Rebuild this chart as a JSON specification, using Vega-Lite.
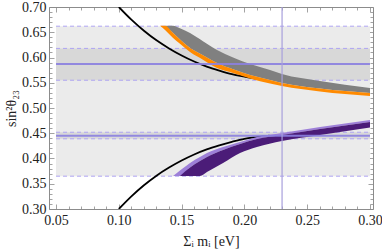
{
  "$schema": "https://vega.github.io/schema/vega-lite/v6.json",
  "width": 324,
  "height": 202,
  "autosize": {"type": "none"},
  "padding": {"left": 49, "top": 7, "right": 9, "bottom": 40},
  "background": "white",
  "config": {
    "view": {"stroke": "#8c8c8c", "strokeWidth": 1},
    "axis": {
      "domain": false,
      "grid": false,
      "labelFont": "Liberation Serif",
      "labelFontSize": 14,
      "labelColor": "#222",
      "titleFont": "Liberation Serif",
      "titleFontSize": 14,
      "titleFontWeight": "normal",
      "titleColor": "#222",
      "tickColor": "#8c8c8c",
      "tickWidth": 0.8
    }
  },
  "datasets": {
    "curves": [
      {"x": 0.10, "y": 0.700, "branch": "up"},
      {"x": 0.11, "y": 0.675, "branch": "up"},
      {"x": 0.12, "y": 0.653, "branch": "up"},
      {"x": 0.13, "y": 0.634, "branch": "up"},
      {"x": 0.14, "y": 0.618, "branch": "up"},
      {"x": 0.15, "y": 0.604, "branch": "up"},
      {"x": 0.16, "y": 0.592, "branch": "up"},
      {"x": 0.17, "y": 0.582, "branch": "up"},
      {"x": 0.18, "y": 0.574, "branch": "up"},
      {"x": 0.19, "y": 0.567, "branch": "up"},
      {"x": 0.20, "y": 0.562, "branch": "up"},
      {"x": 0.21, "y": 0.5575, "branch": "up"},
      {"x": 0.10, "y": 0.300, "branch": "lo"},
      {"x": 0.11, "y": 0.325, "branch": "lo"},
      {"x": 0.12, "y": 0.347, "branch": "lo"},
      {"x": 0.13, "y": 0.366, "branch": "lo"},
      {"x": 0.14, "y": 0.382, "branch": "lo"},
      {"x": 0.15, "y": 0.396, "branch": "lo"},
      {"x": 0.16, "y": 0.408, "branch": "lo"},
      {"x": 0.17, "y": 0.418, "branch": "lo"},
      {"x": 0.18, "y": 0.426, "branch": "lo"},
      {"x": 0.19, "y": 0.433, "branch": "lo"},
      {"x": 0.20, "y": 0.439, "branch": "lo"},
      {"x": 0.21, "y": 0.4425, "branch": "lo"},
      {"x": 0.22, "y": 0.4455, "branch": "lo"}
    ],
    "bands": [
      {"part": "gray", "x": 0.1368, "hi": 0.663, "lo": 0.663},
      {"part": "gray", "x": 0.1432, "hi": 0.663, "lo": 0.6485},
      {"part": "gray", "x": 0.1487, "hi": 0.658, "lo": 0.6356},
      {"part": "gray", "x": 0.1567, "hi": 0.6485, "lo": 0.6188},
      {"part": "gray", "x": 0.1670, "hi": 0.6323, "lo": 0.6046},
      {"part": "gray", "x": 0.1782, "hi": 0.6149, "lo": 0.5891},
      {"part": "gray", "x": 0.1910, "hi": 0.6000, "lo": 0.5766},
      {"part": "gray", "x": 0.2045, "hi": 0.5871, "lo": 0.5653},
      {"part": "gray", "x": 0.2204, "hi": 0.5752, "lo": 0.5554},
      {"part": "gray", "x": 0.2299, "hi": 0.5673, "lo": 0.5495},
      {"part": "gray", "x": 0.2602, "hi": 0.5535, "lo": 0.5386},
      {"part": "gray", "x": 0.3000, "hi": 0.5396, "lo": 0.5297},
      {"part": "orange", "x": 0.1328, "hi": 0.663, "lo": 0.663},
      {"part": "orange", "x": 0.1368, "hi": 0.663, "lo": 0.6545},
      {"part": "orange", "x": 0.1432, "hi": 0.6485, "lo": 0.6386},
      {"part": "orange", "x": 0.1487, "hi": 0.6356, "lo": 0.627},
      {"part": "orange", "x": 0.1567, "hi": 0.6188, "lo": 0.6109},
      {"part": "orange", "x": 0.1670, "hi": 0.6046, "lo": 0.5956},
      {"part": "orange", "x": 0.1782, "hi": 0.5891, "lo": 0.5792},
      {"part": "orange", "x": 0.1910, "hi": 0.5766, "lo": 0.5693},
      {"part": "orange", "x": 0.2045, "hi": 0.5653, "lo": 0.5584},
      {"part": "orange", "x": 0.2204, "hi": 0.5554, "lo": 0.5485},
      {"part": "orange", "x": 0.2299, "hi": 0.5495, "lo": 0.5436},
      {"part": "orange", "x": 0.2602, "hi": 0.5386, "lo": 0.5327},
      {"part": "orange", "x": 0.3000, "hi": 0.5297, "lo": 0.5238},
      {"part": "lpurple", "x": 0.1432, "hi": 0.3653, "lo": 0.3653},
      {"part": "lpurple", "x": 0.1487, "hi": 0.376, "lo": 0.3653},
      {"part": "lpurple", "x": 0.1567, "hi": 0.3911, "lo": 0.3822},
      {"part": "lpurple", "x": 0.1646, "hi": 0.4028, "lo": 0.395},
      {"part": "lpurple", "x": 0.1702, "hi": 0.4109, "lo": 0.403},
      {"part": "lpurple", "x": 0.1830, "hi": 0.4228, "lo": 0.4168},
      {"part": "lpurple", "x": 0.1965, "hi": 0.4327, "lo": 0.4287},
      {"part": "lpurple", "x": 0.2100, "hi": 0.4426, "lo": 0.4386},
      {"part": "lpurple", "x": 0.2299, "hi": 0.4505, "lo": 0.4465},
      {"part": "lpurple", "x": 0.2602, "hi": 0.4624, "lo": 0.4584},
      {"part": "lpurple", "x": 0.3000, "hi": 0.4762, "lo": 0.4723},
      {"part": "dpurple", "x": 0.1487, "hi": 0.3653, "lo": 0.3653},
      {"part": "dpurple", "x": 0.1567, "hi": 0.3822, "lo": 0.3653},
      {"part": "dpurple", "x": 0.1646, "hi": 0.395, "lo": 0.3653},
      {"part": "dpurple", "x": 0.1702, "hi": 0.403, "lo": 0.3733},
      {"part": "dpurple", "x": 0.1830, "hi": 0.4168, "lo": 0.3911},
      {"part": "dpurple", "x": 0.1965, "hi": 0.4287, "lo": 0.4109},
      {"part": "dpurple", "x": 0.2100, "hi": 0.4386, "lo": 0.4228},
      {"part": "dpurple", "x": 0.2299, "hi": 0.4465, "lo": 0.4347},
      {"part": "dpurple", "x": 0.2602, "hi": 0.4584, "lo": 0.4465},
      {"part": "dpurple", "x": 0.3000, "hi": 0.4723, "lo": 0.4614}
    ]
  },
  "resolve": {"axis": {"x": "independent", "y": "independent"}},
  "layer": [
    {
      "data": {"values": [
        {"shade": "light", "x1": 0.05, "x2": 0.30, "y1": 0.365, "y2": 0.662},
        {"shade": "dark", "x1": 0.05, "x2": 0.30, "y1": 0.555, "y2": 0.618},
        {"shade": "dark", "x1": 0.05, "x2": 0.30, "y1": 0.439, "y2": 0.452}
      ]},
      "mark": {"type": "rect"},
      "encoding": {
        "x": {"field": "x1", "type": "quantitative",
          "scale": {"domain": [0.0444, 0.3024], "nice": false, "zero": false},
          "axis": {"orient": "bottom", "title": "Σᵢ mᵢ [eV]", "titlePadding": 7,
            "values": [0.05,0.06,0.07,0.08,0.09,0.10,0.11,0.12,0.13,0.14,0.15,0.16,0.17,0.18,0.19,0.20,0.21,0.22,0.23,0.24,0.25,0.26,0.27,0.28,0.29,0.30],
            "labelExpr": "abs(round(datum.value*100) % 5) == 0 ? format(datum.value, '.2f') : ''",
            "tickSize": {"condition": {"test": "abs(round(datum.value*100) % 5) == 0", "value": -5}, "value": -3},
            "labelPadding": 9, "labelFlush": false}},
        "x2": {"field": "x2"},
        "y": {"field": "y1", "type": "quantitative",
          "scale": {"domain": [0.30, 0.70], "nice": false, "zero": false},
          "axis": {"orient": "left", "title": "sin²θ₂₃", "titlePadding": 3,
            "values": [0.30,0.31,0.32,0.33,0.34,0.35,0.36,0.37,0.38,0.39,0.40,0.41,0.42,0.43,0.44,0.45,0.46,0.47,0.48,0.49,0.50,0.51,0.52,0.53,0.54,0.55,0.56,0.57,0.58,0.59,0.60,0.61,0.62,0.63,0.64,0.65,0.66,0.67,0.68,0.69,0.70],
            "labelExpr": "abs(round(datum.value*100) % 5) == 0 ? format(datum.value, '.2f') : ''",
            "tickSize": {"condition": {"test": "abs(round(datum.value*100) % 5) == 0", "value": -5}, "value": -3},
            "labelPadding": 8, "labelFlush": false}},
        "y2": {"field": "y2"},
        "color": {"field": "shade", "type": "nominal", "scale": {"domain": ["light", "dark"], "range": ["#ebebeb", "#d8d8d8"]}, "legend": null}
      }
    },
    {
      "data": {"values": [
        {"xs": 0.05, "xe": 0.30, "y": 0.662},
        {"xs": 0.05, "xe": 0.30, "y": 0.618},
        {"xs": 0.05, "xe": 0.30, "y": 0.555},
        {"xs": 0.05, "xe": 0.30, "y": 0.452},
        {"xs": 0.05, "xe": 0.30, "y": 0.439},
        {"xs": 0.05, "xe": 0.30, "y": 0.365}
      ]},
      "mark": {"type": "rule", "color": "#aea4f2", "strokeWidth": 1, "strokeDash": [4, 3]},
      "encoding": {
        "x": {"field": "xs", "type": "quantitative", "axis": null},
        "x2": {"field": "xe"},
        "y": {"field": "y", "type": "quantitative", "axis": null}
      }
    },
    {
      "data": {"name": "curves"},
      "mark": {"type": "line", "color": "black", "strokeWidth": 1.8, "interpolate": "monotone", "clip": true},
      "encoding": {
        "x": {"field": "x", "type": "quantitative", "axis": null},
        "y": {"field": "y", "type": "quantitative", "axis": null},
        "detail": {"field": "branch"}
      }
    },
    {
      "data": {"name": "bands"},
      "transform": [{"filter": "datum.part == 'gray'"}],
      "mark": {"type": "area", "color": "#808080", "interpolate": "monotone", "opacity": 1},
      "encoding": {
        "x": {"field": "x", "type": "quantitative", "axis": null},
        "y": {"field": "hi", "type": "quantitative", "axis": null, "stack": null},
        "y2": {"field": "lo"}
      }
    },
    {
      "data": {"name": "bands"},
      "transform": [{"filter": "datum.part == 'orange'"}],
      "mark": {"type": "area", "color": "#ff8a00", "interpolate": "monotone", "opacity": 1},
      "encoding": {
        "x": {"field": "x", "type": "quantitative", "axis": null},
        "y": {"field": "hi", "type": "quantitative", "axis": null, "stack": null},
        "y2": {"field": "lo"}
      }
    },
    {
      "data": {"name": "bands"},
      "transform": [{"filter": "datum.part == 'lpurple'"}],
      "mark": {"type": "area", "color": "#9d7fd8", "interpolate": "monotone", "opacity": 1},
      "encoding": {
        "x": {"field": "x", "type": "quantitative", "axis": null},
        "y": {"field": "hi", "type": "quantitative", "axis": null, "stack": null},
        "y2": {"field": "lo"}
      }
    },
    {
      "data": {"name": "bands"},
      "transform": [{"filter": "datum.part == 'dpurple'"}],
      "mark": {"type": "area", "color": "#4b1c78", "interpolate": "monotone", "opacity": 1},
      "encoding": {
        "x": {"field": "x", "type": "quantitative", "axis": null},
        "y": {"field": "hi", "type": "quantitative", "axis": null, "stack": null},
        "y2": {"field": "lo"}
      }
    },
    {
      "data": {"values": [
        {"xs": 0.05, "xe": 0.30, "y": 0.587},
        {"xs": 0.05, "xe": 0.30, "y": 0.445}
      ]},
      "mark": {"type": "rule", "color": "#8b80e0", "strokeWidth": 2, "opacity": 0.9},
      "encoding": {
        "x": {"field": "xs", "type": "quantitative", "axis": null},
        "x2": {"field": "xe"},
        "y": {"field": "y", "type": "quantitative",
          "axis": {"orient": "right", "title": null, "labels": false,
            "values": [0.30,0.31,0.32,0.33,0.34,0.35,0.36,0.37,0.38,0.39,0.40,0.41,0.42,0.43,0.44,0.45,0.46,0.47,0.48,0.49,0.50,0.51,0.52,0.53,0.54,0.55,0.56,0.57,0.58,0.59,0.60,0.61,0.62,0.63,0.64,0.65,0.66,0.67,0.68,0.69,0.70],
            "tickSize": {"condition": {"test": "abs(round(datum.value*100) % 5) == 0", "value": -5}, "value": -3}}}
      }
    },
    {
      "data": {"values": [{"x": 0.23}]},
      "mark": {"type": "rule", "color": "#a89fdc", "strokeWidth": 1.5, "opacity": 0.8},
      "encoding": {
        "x": {"field": "x", "type": "quantitative",
          "axis": {"orient": "top", "title": null, "labels": false,
            "values": [0.05,0.06,0.07,0.08,0.09,0.10,0.11,0.12,0.13,0.14,0.15,0.16,0.17,0.18,0.19,0.20,0.21,0.22,0.23,0.24,0.25,0.26,0.27,0.28,0.29,0.30],
            "tickSize": {"condition": {"test": "abs(round(datum.value*100) % 5) == 0", "value": -5}, "value": -3}}}
      }
    }
  ]
}
